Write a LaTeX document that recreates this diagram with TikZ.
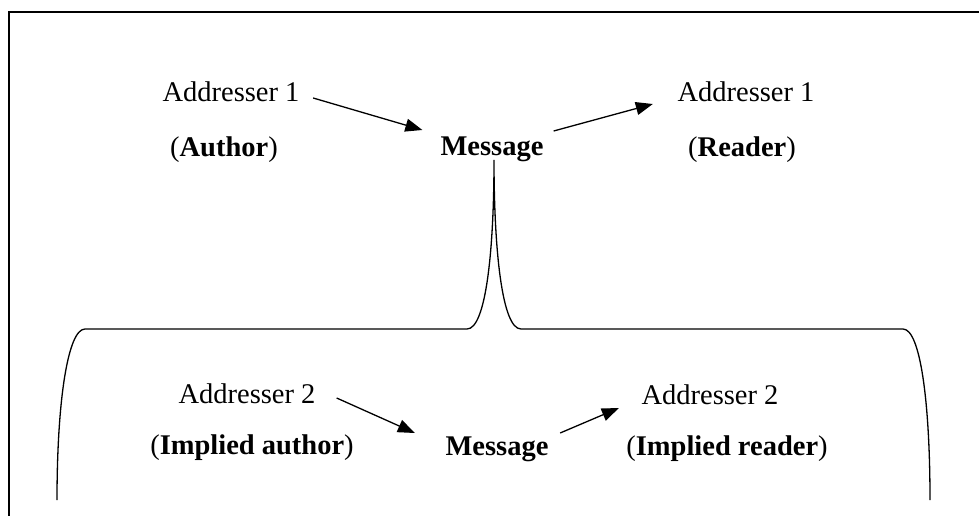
\documentclass[tikz,border=0pt]{standalone}
\usepackage{fontspec}
\setmainfont{Liberation Serif}
\usetikzlibrary{arrows.meta}
\begin{document}
\begin{tikzpicture}[x=1pt,y=-1pt,
  lbl/.style={anchor=base,inner sep=0pt,font=\fontsize{28.5}{34}\selectfont},
  conn/.style={line width=1.3pt,-{Triangle[length=17pt,width=13pt]}},
  frame/.style={line width=2.2pt},
  bracepath/.style={line width=1.3pt}]
\useasboundingbox (0,0) rectangle (979,516);
\draw[frame] (979,12) -- (9,12) -- (9,516);
% top row
\node[lbl] (a1L) at (231,102) {Addresser 1};
\node[lbl] (auth) at (224,157) {(\textbf{Author})};
\node[lbl] (msg1) at (492,155) {\textbf{Message}};
\node[lbl] (a1R) at (746,102) {Addresser 1};
\node[lbl] (read) at (742,157) {(\textbf{Reader})};
% bottom row
\node[lbl] (a2L) at (247,403) {Addresser 2};
\node[lbl] (iauth) at (252,454) {(\textbf{Implied author})};
\node[lbl] (msg2) at (497,455) {\textbf{Message}};
\node[lbl] (a2R) at (710,404) {Addresser 2};
\node[lbl] (iread) at (727,455) {(\textbf{Implied reader})};
% arrows
\draw[conn] ([xshift=13.5pt,yshift=4pt]a1L.base east) -- ([xshift=-18pt,yshift=25pt]msg1.base west);
\draw[conn] ([xshift=10pt,yshift=24pt]msg1.base east) -- ([xshift=-24.5pt,yshift=-2pt]a1R.base west);
\draw[conn] ([xshift=21pt,yshift=5pt]a2L.base east) -- ([xshift=-30.5pt,yshift=22pt]msg2.base west);
\draw[conn] ([xshift=11.5pt,yshift=22pt]msg2.base east) -- ([xshift=-22.5pt,yshift=-4pt]a2R.base west);
% brace
\draw[bracepath] (57,500) .. controls (57,400) and (68,329) .. (85,329) -- (467,329)
  .. controls (486,329) and (494,250) .. (494,160)
  .. controls (494,250) and (502,329) .. (521,329) -- (903,329)
  .. controls (920,329) and (930,400) .. (930,500);
\end{tikzpicture}
\end{document}
